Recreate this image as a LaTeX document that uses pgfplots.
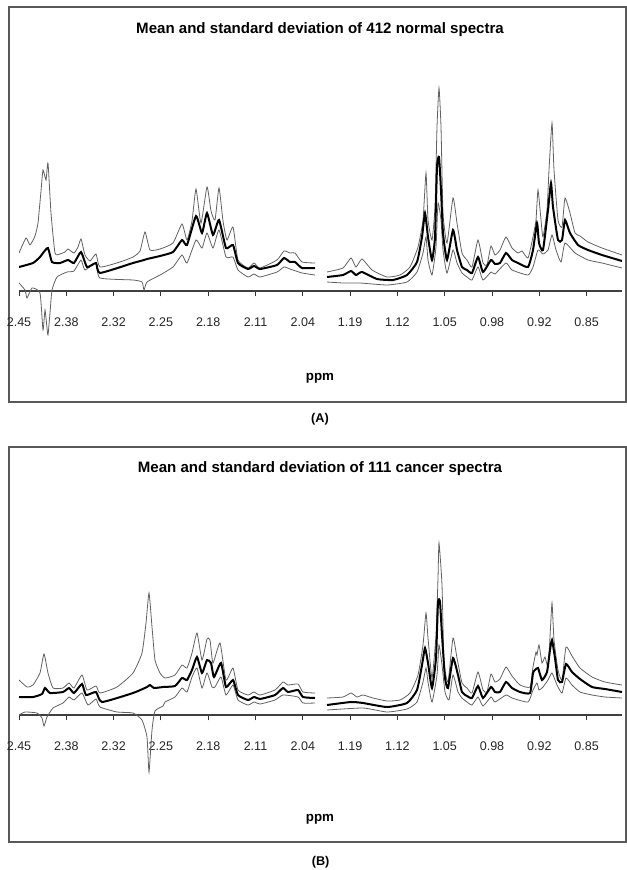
\documentclass[border=0pt]{standalone}
\usepackage{fontspec}
\setmainfont{Liberation Sans}
\usepackage{pgfplots}
\pgfplotsset{compat=1.18}

% x = sample position (px of the original), y = intensity (px above baseline)
\pgfplotsset{
  spec/.style={
    scale only axis, width=452.25pt,
    xmin=19, xmax=622, enlargelimits=false,
    axis x line=middle, axis y line=none,
    x axis line style={-, draw=black!75, line width=0.8pt},
    xtick={19,66.3,113.6,160.9,208.2,255.5,302.8,350.1,397.4,444.7,492,539.3,586.6},
    xticklabels={2.45,2.38,2.32,2.25,2.18,2.11,2.04,1.19,1.12,1.05,0.98,0.92,0.85},
    xtick align=outside, major tick length=4pt,
    every tick/.style={black!80, line width=0.7pt},
    xticklabel style={font=\fontsize{9.4}{11}\selectfont, anchor=base, yshift=-22.5pt, text=black!85},
    ytick=\empty,
  },
  sd/.style={black!62, line width=0.6pt, no marks, smooth, tension=0.3},
  mn/.style={black, line width=1.5pt, no marks, smooth, tension=0.3},
}

\begin{document}
\begin{tikzpicture}
\path[use as bounding box] (0,0) rectangle (470.25pt,-652.5pt);

% ---------------- panel A ----------------
\draw[black!65, line width=0.8pt] (6.75pt,-5.25pt) rectangle (469.5pt,-301.5pt);
\node[font=\fontsize{11.3}{13}\selectfont\bfseries] at (240pt,-22.5pt) {Mean and standard deviation of 412 normal spectra};
\node[font=\fontsize{10}{12}\selectfont\bfseries] at (240pt,-283.5pt) {ppm};
\node[font=\fontsize{9.5}{11}\selectfont\bfseries] at (240pt,-314.5pt) {(A)};

\begin{axis}[spec, ymin=-60, ymax=210, height=202.5pt,
  at={(14.25pt,-263.25pt)}, anchor=south west]
\addplot[sd] coordinates {(19,38)(26,53)(30,46)(35,55)(38,68)(41,100)(43,121)(46,111)(48,128)(51,78)(55,38)(60,37)(65,39)(68,42)(74,38)(78,44)(81,52)(85,36)(90,30)(96,37)(100,24)(120,29)(133,34)(140,40)(145,59)(150,41)(160,42)(173,48)(182,67)(187,51)(192,70)(196,102)(201,68)(207,104)(211,80)(215,71)(219,103)(223,70)(227,51)(233,64)(238,31)(248,23)(254,28)(260,23)(277,31)(284,40)(290,38)(295,38)(302,29)(315,28)};
\addplot[sd] coordinates {(19,8)(25,1)(27,-7)(32,3)(40,-2)(43,-39)(45,-19)(47,-37)(48,-44)(50,-22)(52,1)(57,14)(67,19)(74,20)(81,31)(85,21)(96,28)(100,13)(133,11)(142,9)(144,1)(147,9)(160,16)(173,24)(182,36)(187,28)(196,51)(202,43)(207,58)(213,43)(219,61)(226,34)(233,34)(238,21)(248,14)(254,17)(260,14)(277,19)(284,24)(290,22)(302,18)(315,16)};
\addplot[mn] coordinates {(19,24)(33,28)(40,34)(43,38)(48,43)(52,29)(60,28)(68,31)(74,28)(81,39)(87,24)(96,28)(100,18)(133,28)(144,31)(147,32)(160,35)(173,39)(182,51)(187,46)(196,75)(202,58)(207,78)(213,56)(219,71)(226,43)(233,46)(238,28)(248,22)(254,25)(260,22)(277,26)(284,33)(290,29)(295,29)(302,23)(315,23)};
\addplot[sd] coordinates {(327,19)(343,23)(351,33)(356,24)(362,32)(372,21)(387,14)(400,16)(410,24)(418,44)(423,71)(426,118)(428,71)(432,51)(435,84)(437,164)(439,203)(441,164)(443,78)(447,48)(453,93)(457,68)(462,38)(467,31)(472,24)(478,51)(483,28)(487,26)(491,45)(495,36)(500,41)(506,54)(512,43)(518,38)(522,40)(528,33)(533,54)(536,71)(538,101)(541,71)(543,54)(547,81)(549,121)(552,168)(554,121)(558,71)(562,64)(565,93)(570,78)(575,58)(580,55)(588,49)(602,43)(622,36)};
\addplot[sd] coordinates {(327,9)(343,8)(360,8)(387,6)(407,9)(417,19)(423,38)(426,54)(428,31)(432,16)(436,44)(438,88)(441,71)(443,41)(447,18)(453,41)(457,28)(462,18)(467,14)(472,11)(478,24)(483,11)(491,19)(495,17)(506,28)(512,21)(528,16)(533,24)(538,41)(543,37)(548,41)(552,56)(556,41)(561,29)(565,48)(575,38)(588,31)(602,28)(622,23)};
\addplot[mn] coordinates {(327,14)(343,16)(351,20)(356,16)(362,19)(377,12)(393,11)(407,16)(417,29)(422,54)(425,78)(428,54)(432,31)(435,54)(437,124)(439,134)(441,101)(443,58)(447,31)(453,61)(457,41)(462,24)(467,21)(472,18)(478,34)(483,19)(491,31)(495,27)(500,28)(506,38)(512,31)(518,28)(528,24)(533,41)(537,68)(539,48)(543,41)(548,81)(551,108)(553,84)(558,51)(562,51)(565,71)(570,58)(578,46)(588,41)(602,36)(622,30)};
\end{axis}

% ---------------- panel B ----------------
\draw[black!65, line width=0.8pt] (6.75pt,-335.25pt) rectangle (469.5pt,-631.5pt);
\node[font=\fontsize{11.3}{13}\selectfont\bfseries] at (240pt,-351.75pt) {Mean and standard deviation of 111 cancer spectra};
\node[font=\fontsize{10}{12}\selectfont\bfseries] at (240pt,-614.25pt) {ppm};
\node[font=\fontsize{9.5}{11}\selectfont\bfseries] at (240.5pt,-647pt) {(B)};

\begin{axis}[spec, ymin=-60, ymax=180, height=180pt,
  at={(14.25pt,-581.25pt)}, anchor=south west]
\addplot[sd] coordinates {(19,35)(27,28)(33,30)(40,42)(44,61)(48,42)(53,27)(63,27)(69,32)(74,27)(82,40)(87,25)(96,29)(100,22)(117,28)(133,42)(142,62)(146,92)(149,122)(152,88)(155,55)(160,42)(165,37)(175,40)(182,50)(187,47)(192,62)(197,82)(202,55)(207,76)(210,75)(213,52)(220,72)(226,35)(233,47)(238,25)(248,20)(254,23)(260,20)(275,25)(283,33)(288,30)(298,31)(303,23)(315,22)};
\addplot[sd] coordinates {(19,0)(25,3)(37,2)(42,-3)(44,-11)(47,-2)(53,7)(63,12)(69,18)(74,15)(82,22)(88,10)(96,16)(100,8)(117,3)(133,2)(142,-5)(147,-22)(149,-57)(152,-15)(155,4)(163,9)(165,13)(175,18)(182,27)(187,23)(192,38)(197,47)(202,27)(207,42)(212,28)(215,28)(221,38)(226,20)(233,30)(238,15)(248,10)(254,13)(260,11)(275,15)(283,20)(298,18)(303,12)(315,12)};
\addplot[mn] coordinates {(19,18)(33,18)(42,21)(45,27)(50,22)(63,23)(69,27)(74,22)(82,31)(86,20)(96,23)(102,13)(133,22)(147,28)(150,30)(154,27)(163,28)(175,29)(182,37)(187,35)(192,45)(197,58)(202,42)(207,55)(211,52)(214,38)(221,52)(226,28)(233,35)(238,20)(248,15)(254,18)(260,16)(275,20)(283,27)(288,23)(298,25)(303,18)(315,17)};
\addplot[sd] coordinates {(327,17)(343,18)(351,22)(357,18)(363,20)(373,17)(387,14)(400,15)(410,22)(418,40)(423,70)(426,102)(428,77)(432,37)(436,80)(438,137)(439,172)(442,130)(444,53)(448,33)(453,77)(457,57)(462,32)(467,27)(472,22)(478,43)(483,25)(487,23)(491,41)(495,33)(500,36)(506,48)(512,39)(520,30)(530,28)(533,48)(536,63)(537,60)(539,70)(542,52)(545,58)(548,48)(550,78)(552,112)(554,75)(558,45)(562,35)(566,68)(572,59)(580,47)(592,38)(605,33)(622,30)};
\addplot[sd] coordinates {(327,5)(363,7)(387,3)(407,6)(417,13)(423,33)(426,47)(428,33)(432,13)(437,40)(439,70)(442,50)(445,23)(449,15)(453,40)(458,23)(462,17)(467,13)(472,10)(478,18)(483,9)(491,18)(495,13)(506,20)(512,17)(528,13)(533,25)(537,32)(539,25)(543,28)(548,35)(552,42)(557,30)(562,22)(566,37)(572,30)(580,23)(592,20)(605,18)(622,17)};
\addplot[mn] coordinates {(327,10)(351,13)(363,12)(387,8)(407,12)(417,25)(422,50)(425,67)(428,52)(432,27)(436,57)(438,113)(440,113)(442,80)(445,37)(448,27)(453,57)(458,40)(462,23)(467,19)(472,17)(478,29)(483,17)(491,28)(495,23)(500,23)(506,33)(512,27)(520,23)(530,22)(533,42)(535,45)(538,47)(542,35)(547,43)(550,65)(552,75)(555,57)(558,35)(562,33)(566,51)(572,43)(580,36)(592,28)(605,26)(622,23)};
\end{axis}
\end{tikzpicture}
\end{document}
